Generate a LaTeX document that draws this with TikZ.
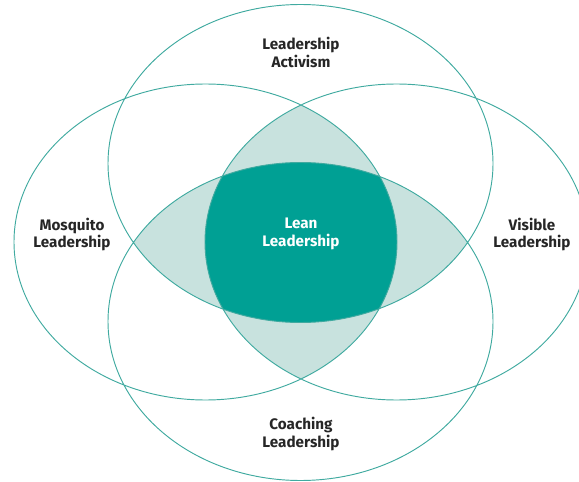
\documentclass[tikz,border=0pt]{standalone}
\usepackage{fontspec}
\setmainfont{Fira Sans}
\usetikzlibrary{positioning}
\definecolor{leanteal}{RGB}{0,160,148}
\definecolor{leanlight}{RGB}{200,226,222}
\definecolor{leanline}{RGB}{64,170,160}
\begin{document}
\begin{tikzpicture}[x=0.03cm, y=-0.03cm,
    ring/.style={draw=leanline, line width=0.8pt},
    vert/.style={x radius=192.5, y radius=159},
    horz/.style={x radius=191.5, y radius=158},
    caption/.style={align=center, text=black!85, font=\bfseries\fontsize{13}{15}\selectfont}]
\useasboundingbox (0,0) rectangle (579,482);
\coordinate (top) at (300.5,163.5);
\coordinate (bot) at (300.5,321.5);
\coordinate (lft) at (205.5,242);
\coordinate (rgt) at (396.5,242);
% light lenses
\begin{scope}
  \clip (lft) ellipse [horz];
  \fill [leanlight] (rgt) ellipse [horz];
\end{scope}
\begin{scope}
  \clip (top) ellipse [vert];
  \fill [leanlight] (bot) ellipse [vert];
\end{scope}
% core
\begin{scope}
  \clip (lft) ellipse [horz];
  \clip (rgt) ellipse [horz];
  \clip (top) ellipse [vert];
  \fill [leanteal] (bot) ellipse [vert];
\end{scope}
\draw [ring] (top) ellipse [vert] (bot) ellipse [vert]
             (lft) ellipse [horz] (rgt) ellipse [horz];
\node [caption] (activism) at (301,52.5) {Leadership\\Activism};
\node [caption] (mosquito) at (72,234.5) {Mosquito\\Leadership};
\node [caption, text=white] (lean) at (301,234) {Lean\\Leadership};
\node [caption] (visible) at (532,234.5) {Visible\\Leadership};
\node [caption] (coaching) at (301,434) {Coaching\\Leadership};
\end{tikzpicture}
\end{document}
